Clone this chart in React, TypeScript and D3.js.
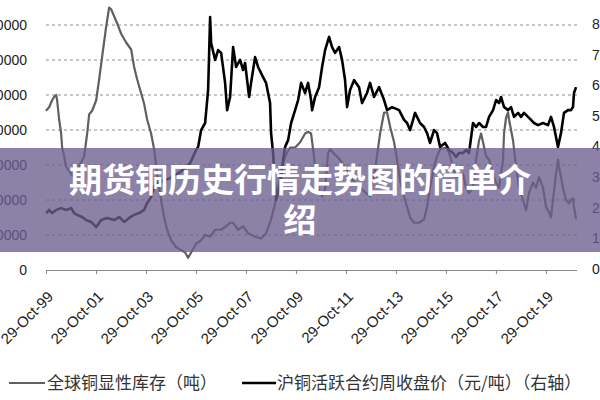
import React, { useEffect, useRef } from 'react';
import * as d3 from 'd3';

// global visible copper stock (tonnes), left axis — decimal years
const stockYears = [
  1999.82, 1999.95, 2000.07, 2000.15, 2000.23, 2000.27, 2000.35, 2000.43, 2000.47, 2000.55, 2000.63, 2000.87,
  2001.11, 2001.35, 2001.47, 2001.55, 2001.67, 2001.83, 2001.95, 2002.07, 2002.23, 2002.35, 2002.43, 2002.55,
  2002.67, 2002.83, 2003.03, 2003.23, 2003.35, 2003.47, 2003.63, 2003.75, 2003.87, 2004.03, 2004.15, 2004.27,
  2004.43, 2004.55, 2004.67, 2004.83, 2005.03, 2005.39, 2005.51, 2005.63, 2005.83, 2006.03, 2006.19, 2006.39,
  2006.59, 2006.83, 2007.03, 2007.19, 2007.31, 2007.51, 2007.71, 2007.91, 2008.19, 2008.43, 2008.63, 2008.83,
  2008.99, 2009.11, 2009.23, 2009.39, 2009.59, 2009.79, 2009.99, 2010.19, 2010.31, 2010.43, 2010.51, 2010.59,
  2010.71, 2010.87, 2010.99, 2011.11, 2011.19, 2011.31, 2011.59, 2011.87, 2012.11, 2012.39, 2012.79, 2012.99,
  2013.19, 2013.35, 2013.47, 2013.59, 2013.75, 2013.87, 2013.99, 2014.15, 2014.27, 2014.39, 2014.55, 2014.75,
  2014.95, 2015.07, 2015.19, 2015.35, 2015.47, 2015.59, 2015.83, 2015.95, 2016.11, 2016.23, 2016.35, 2016.51,
  2016.63, 2016.75, 2016.91, 2017.03, 2017.15, 2017.23, 2017.31, 2017.43, 2017.55, 2017.71, 2017.83, 2017.95,
  2018.11, 2018.15, 2018.23, 2018.31, 2018.35, 2018.51, 2018.63, 2018.75, 2018.91, 2019.03, 2019.15, 2019.31,
  2019.43, 2019.55, 2019.71, 2019.83, 2019.95, 2020.03, 2020.11, 2020.23, 2020.31, 2020.35, 2020.51, 2020.63,
  2020.75, 2020.83, 2020.91, 2020.95, 2021.03,
];
const stockValues = [
  910000, 930000, 970000, 990000, 1000000, 970000, 860000, 780000, 700000, 650000, 590000, 540000,
  580000, 650000, 780000, 890000, 910000, 970000, 1090000, 1220000, 1390000, 1500000, 1490000, 1450000,
  1410000, 1350000, 1300000, 1260000, 1160000, 1090000, 1010000, 950000, 860000, 780000, 690000, 550000,
  400000, 300000, 230000, 170000, 130000, 100000, 70000, 100000, 150000, 170000, 200000, 190000,
  230000, 230000, 250000, 270000, 270000, 230000, 250000, 210000, 190000, 180000, 210000, 290000,
  380000, 470000, 570000, 650000, 700000, 700000, 730000, 780000, 790000, 780000, 690000, 590000,
  470000, 420000, 460000, 670000, 690000, 670000, 630000, 570000, 510000, 470000, 420000, 570000,
  780000, 900000, 900000, 820000, 730000, 630000, 510000, 420000, 360000, 300000, 270000, 270000,
  290000, 360000, 470000, 590000, 650000, 690000, 700000, 670000, 590000, 530000, 530000, 550000,
  470000, 440000, 470000, 630000, 740000, 780000, 730000, 650000, 630000, 550000, 500000, 470000,
  630000, 780000, 870000, 900000, 860000, 740000, 590000, 470000, 400000, 340000, 440000, 500000,
  470000, 530000, 470000, 360000, 330000, 300000, 400000, 550000, 630000, 590000, 470000, 400000,
  380000, 400000, 410000, 360000, 290000,
];

// SHFE active copper contract weekly close (yuan/tonne), right axis
const priceYears = [
  1999.83, 1999.95, 2000.07, 2000.23, 2000.43, 2000.63, 2000.83, 2000.95, 2001.07, 2001.27, 2001.43, 2001.63,
  2001.83, 2002.03, 2002.27, 2002.55, 2002.75, 2002.95, 2003.15, 2003.35, 2003.55, 2003.75, 2003.87, 2004.03,
  2004.19, 2004.39, 2004.59, 2004.79, 2004.99, 2005.19, 2005.39, 2005.59, 2005.83, 2005.91, 2006.03, 2006.19,
  2006.31, 2006.39, 2006.43, 2006.59, 2006.71, 2006.83, 2006.99, 2007.07, 2007.19, 2007.31, 2007.43, 2007.59,
  2007.71, 2007.79, 2007.95, 2008.03, 2008.19, 2008.31, 2008.51, 2008.63, 2008.79, 2008.83, 2008.91, 2009.03,
  2009.19, 2009.31, 2009.39, 2009.51, 2009.63, 2009.79, 2009.91, 2010.03, 2010.19, 2010.31, 2010.43, 2010.47,
  2010.59, 2010.75, 2010.87, 2010.99, 2011.15, 2011.27, 2011.39, 2011.55, 2011.67, 2011.79, 2011.87, 2011.99,
  2012.15, 2012.35, 2012.47, 2012.67, 2012.79, 2012.95, 2013.15, 2013.35, 2013.47, 2013.67, 2013.95, 2014.15,
  2014.27, 2014.39, 2014.59, 2014.79, 2014.95, 2015.07, 2015.19, 2015.35, 2015.47, 2015.59, 2015.79, 2015.95,
  2016.11, 2016.23, 2016.35, 2016.51, 2016.63, 2016.75, 2016.91, 2017.03, 2017.15, 2017.31, 2017.43, 2017.55,
  2017.71, 2017.83, 2017.95, 2018.03, 2018.15, 2018.31, 2018.43, 2018.55, 2018.71, 2018.83, 2018.95, 2019.11,
  2019.23, 2019.35, 2019.51, 2019.71, 2019.91, 2020.03, 2020.15, 2020.31, 2020.43, 2020.55, 2020.71, 2020.83,
  2020.91, 2020.95, 2021.03,
];
const priceValues = [
  18600, 19600, 18600, 19600, 20200, 19600, 20200, 18600, 18000, 17300, 16300, 15700,
  14000, 16300, 17000, 16300, 17300, 15700, 17000, 18000, 18600, 19600, 21900, 23800,
  27800, 28700, 29400, 30000, 31000, 32000, 33300, 34900, 39200, 40200, 45700, 48000,
  58800, 82600, 74100, 68600, 71800, 70900, 61100, 52200, 56500, 72800, 66300, 68600,
  65300, 67600, 56500, 61100, 69500, 66300, 63000, 61100, 54500, 44700, 38200, 22900,
  27800, 35900, 40200, 42400, 48000, 52200, 55500, 61100, 57800, 61100, 55500, 52200,
  56500, 59700, 66300, 71800, 76100, 72800, 70900, 72800, 68600, 62000, 53200, 58800,
  62000, 59700, 54500, 57800, 61100, 56500, 59700, 55500, 52200, 53200, 52200, 49000,
  48000, 45700, 51300, 48000, 46700, 44700, 41500, 45700, 44700, 40200, 41500, 39200,
  38200, 36900, 38200, 38200, 39200, 38200, 48000, 46700, 48000, 46700, 46700, 50000,
  52200, 55500, 54500, 56500, 53200, 52200, 53200, 50000, 51300, 50000, 51300, 50000,
  49000, 48000, 47300, 48000, 47300, 50000, 46700, 40200, 44700, 51300, 52200, 52200,
  53200, 57800, 59700,
];

const leftTicks = [0, 200000, 400000, 600000, 800000, 1000000, 1200000, 1400000];
const rightTicks = [0, 10000, 20000, 30000, 40000, 50000, 60000, 70000, 80000];
const tickLabels = ['1999-10-29', '2001-10-29', '2003-10-29', '2005-10-29', '2007-10-29', '2009-10-29',
  '2011-10-29', '2013-10-29', '2015-10-29', '2017-10-29', '2019-10-29'];

const stockName = '全球铜显性库存（吨）';
const priceName = '沪铜活跃合约周收盘价（元/吨）（右轴）';
const titleLines = ['期货铜历史行情走势图的简单介', '绍'];

const yearToDate = (y: number) => {
  const yr = Math.floor(y);
  return new Date(new Date(yr, 0, 1).getTime() + (y - yr) * 365.25 * 864e5);
};

const latin = '"Liberation Sans", Arial, sans-serif';
const cjk = '"Noto Sans CJK SC", "Noto Sans", sans-serif';

export default function App() {
  const ref = useRef<SVGSVGElement>(null);

  useEffect(() => {
    const svg = d3.select(ref.current);
    svg.selectAll('*').remove();

    const x = d3.scaleTime()
      .domain([new Date(1999, 9, 29), new Date(2021, 0, 26)])
      .range([46, 577]);
    const yL = d3.scaleLinear().domain([0, 1400000]).range([270, 25]);
    const yR = d3.scaleLinear().domain([0, 80000]).range([270, 25]);

    svg.append('rect').attr('width', 600).attr('height', 400).attr('fill', '#fff');

    // dashed gridlines
    svg.append('g')
      .selectAll('line')
      .data(leftTicks.filter(d => d > 0))
      .enter()
      .append('line')
      .attr('x1', 46).attr('x2', 577)
      .attr('y1', d => yL(d)).attr('y2', d => yL(d))
      .attr('stroke', '#8c8c8c')
      .attr('stroke-dasharray', '3,3');

    // left labels
    svg.append('g')
      .selectAll('text')
      .data(leftTicks)
      .enter()
      .append('text')
      .attr('x', 27)
      .attr('y', d => yL(d))
      .attr('dy', '0.35em')
      .attr('text-anchor', 'end')
      .style('font', `14px ${latin}`)
      .attr('fill', '#222')
      .text(d => String(d));

    // right labels
    svg.append('g')
      .selectAll('text')
      .data(rightTicks)
      .enter()
      .append('text')
      .attr('x', 592)
      .attr('y', d => yR(d) - 1)
      .attr('dy', '0.35em')
      .style('font', `14px ${latin}`)
      .attr('fill', '#222')
      .text(d => String(d));

    // bottom axis
    const xAxis = d3.axisBottom(x)
      .tickValues(tickLabels.map(s => d3.timeParse('%Y-%m-%d')(s)!))
      .tickFormat(d => d3.timeFormat('%d-%b-%y')(d as Date))
      .tickSize(4)
      .tickSizeOuter(0);
    const gx = svg.append('g')
      .attr('transform', 'translate(0, 270)')
      .call(xAxis);
    gx.select('.domain').attr('stroke', '#888').attr('d', 'M46,0.5H577');
    gx.selectAll('.tick line').attr('stroke', '#888');
    gx.selectAll('.tick text')
      .style('font', `15px ${latin}`)
      .attr('fill', '#222')
      .style('text-anchor', 'end')
      .attr('transform', 'translate(4, 24) rotate(-45)')
      .attr('dy', '0.35em')
      .attr('x', 0)
      .attr('y', 0);

    const stock = stockYears.map((y, i) => ({ d: yearToDate(y), v: stockValues[i] }));
    const price = priceYears.map((y, i) => ({ d: yearToDate(y), v: priceValues[i] }));

    svg.append('path')
      .datum(stock)
      .attr('fill', 'none')
      .attr('stroke', '#606060')
      .attr('stroke-width', 2.2)
      .attr('stroke-linejoin', 'round')
      .attr('d', d3.line<{ d: Date; v: number }>().x(p => x(p.d)).y(p => yL(p.v)));

    svg.append('path')
      .datum(price)
      .attr('fill', 'none')
      .attr('stroke', '#000')
      .attr('stroke-width', 2.6)
      .attr('stroke-linejoin', 'round')
      .attr('d', d3.line<{ d: Date; v: number }>().x(p => x(p.d)).y(p => yR(p.v)));

    // legend
    const lg = svg.append('g').attr('transform', 'translate(0, 383)');
    lg.append('line').attr('x1', 9).attr('x2', 45).attr('stroke', '#606060').attr('stroke-width', 2);
    lg.append('text').attr('x', 47).attr('dy', '0.35em')
      .style('font', `17px ${cjk}`).attr('fill', '#333').text(stockName);
    lg.append('line').attr('x1', 242).attr('x2', 276).attr('stroke', '#000').attr('stroke-width', 2.6);
    lg.append('text').attr('x', 277).attr('dy', '0.35em')
      .style('font', `17px ${cjk}`).attr('fill', '#333').text(priceName);

    // title banner
    svg.append('rect')
      .attr('x', 0).attr('y', 148).attr('width', 600).attr('height', 104)
      .attr('fill', 'rgb(108, 94, 142)').attr('fill-opacity', 0.78);
    const title = svg.append('text')
      .attr('text-anchor', 'middle')
      .style('font', `bold 33px ${cjk}`)
      .attr('fill', '#fff');
    title.selectAll('tspan')
      .data(titleLines)
      .enter()
      .append('tspan')
      .attr('x', 300)
      .attr('y', (_, i) => 192 + i * 40)
      .text(d => d);
  }, []);

  return (
    <svg ref={ref} width={600} height={400}
      style={{ position: 'absolute', left: 0, top: 0, display: 'block' }} />
  );
}
